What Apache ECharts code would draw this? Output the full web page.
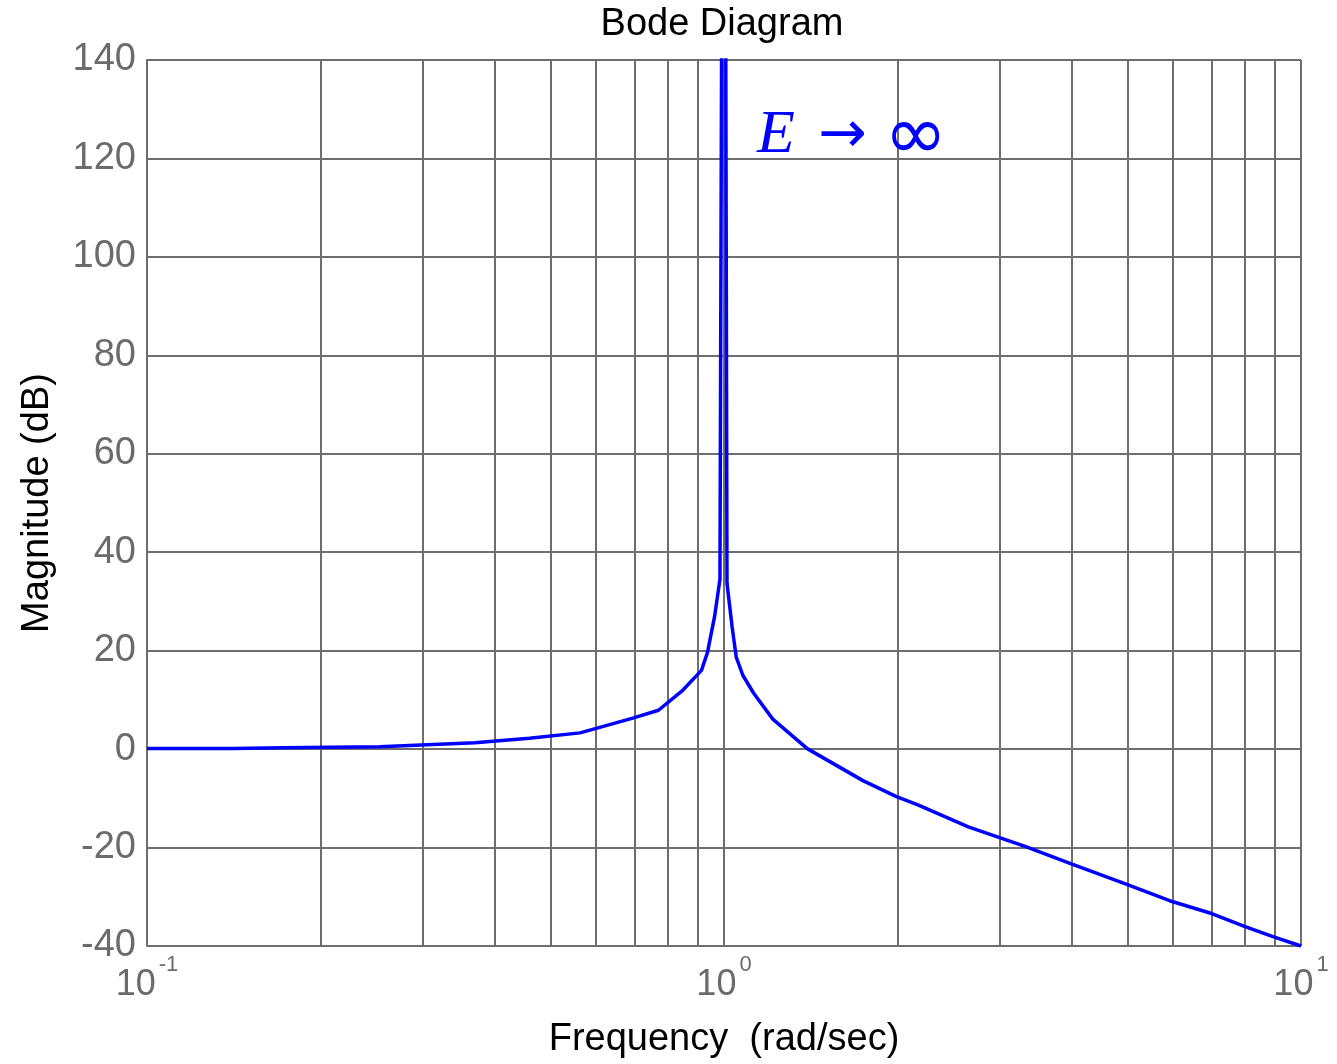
<!DOCTYPE html>
<html>
<head>
<meta charset="utf-8">
<title>Bode Diagram</title>
<script src="https://cdn.jsdelivr.net/npm/echarts@6/dist/echarts.min.js"></script>
<style>
  html, body { margin: 0; padding: 0; background: #ffffff; }
  #chart { width: 1337px; height: 1064px; }
</style>
</head>
<body>
<div id="chart"></div>
<script>
// Undamped second-order system: magnitude response vs. frequency
const frequency = [0.1, 0.141, 0.172, 0.253, 0.37, 0.46, 0.563, 0.695, 0.77, 0.849, 0.914, 0.936,
  0.963, 0.984, 1, 1.012, 1.033, 1.05, 1.078, 1.125, 1.215, 1.394, 1.741, 1.986, 2.173, 2.651,
  3.334, 3.977, 4.963, 5.92, 7.0, 7.98, 8.94, 10];
const magnitudeDb = [0.1, 0.1, 0.3, 0.5, 1.3, 2.2, 3.3, 6.3, 7.9, 12.0, 16.0, 19.6,
  26.9, 34.5, 300, 33.7, 24.8, 18.7, 15.0, 11.4, 6.1, 0.1, -6.4, -9.6, -11.4, -15.8,
  -19.8, -23.2, -27.4, -30.8, -33.4, -36.0, -38.1, -40.0];

// Intermediate log-decade grid lines
const minorFrequencies = [0.2, 0.3, 0.4, 0.5, 0.6, 0.7, 0.8, 0.9, 2, 3, 4, 5, 6, 7, 8, 9];

const yTicks = { min: -40, max: 140, step: 20 };

const gridColor = '#6e6e6e';
const labelColor = '#6b6b6b';
const curveColor = '#0000ff';
const sansFont = '"Liberation Sans", Arial, Helvetica, sans-serif';

const chart = echarts.init(document.getElementById('chart'), null, { renderer: 'canvas' });

chart.setOption({
  backgroundColor: '#ffffff',
  animation: false,
  grid: { left: 147, right: 36, top: 60, bottom: 118, containLabel: false },
  graphic: [
    {
      type: 'text', x: 722, y: 6, z: 10,
      style: { text: 'Bode Diagram', textAlign: 'center', fill: '#000000',
        font: '38px ' + sansFont }
    },
    // resonance annotation: E -> infinity
    {
      type: 'text', x: 757, y: 136, z: 10,
      style: { text: 'E', textVerticalAlign: 'middle', fill: curveColor,
        font: 'italic 62px "Liberation Serif", "DejaVu Serif", serif' }
    },
    {
      type: 'text', x: 818, y: 137, z: 10,
      style: { text: '→', textVerticalAlign: 'middle', fill: curveColor,
        font: '58px "DejaVu Sans", sans-serif' }
    },
    {
      type: 'text', x: 884, y: 139, z: 10,
      style: { text: '∞', textVerticalAlign: 'middle', fill: curveColor,
        font: '76px "DejaVu Sans", sans-serif' }
    }
  ],
  xAxis: {
    type: 'log',
    logBase: 10,
    min: 0.1,
    max: 10,
    name: 'Frequency  (rad/sec)',
    nameLocation: 'middle',
    nameGap: 75,
    nameTextStyle: { color: '#000000', fontSize: 38, fontFamily: sansFont },
    axisLine: { show: true, lineStyle: { color: gridColor, width: 2 } },
    axisTick: { show: false },
    splitLine: { show: true, lineStyle: { color: gridColor, width: 2 } },
    axisLabel: {
      margin: 21,
      formatter: function (v) {
        const exp = Math.round(Math.log10(v));
        return '{b|10}{s|' + exp + '}';
      },
      rich: {
        b: { fontSize: 36, color: labelColor, fontFamily: sansFont, lineHeight: 36 },
        s: { fontSize: 22, color: labelColor, fontFamily: sansFont, lineHeight: 22,
             padding: [0, 0, 40, 3] }
      }
    }
  },
  yAxis: {
    type: 'value',
    min: yTicks.min,
    max: yTicks.max,
    interval: yTicks.step,
    name: 'Magnitude (dB)',
    nameLocation: 'middle',
    nameGap: 90,
    nameTextStyle: { color: '#000000', fontSize: 38, fontFamily: sansFont },
    axisLine: { show: true, lineStyle: { color: gridColor, width: 2 } },
    axisTick: { show: false },
    splitLine: { show: true, lineStyle: { color: gridColor, width: 2 } },
    axisLabel: { margin: 11, color: labelColor, fontSize: 38, fontFamily: sansFont }
  },
  series: [
    {
      name: 'minor grid',
      type: 'line',
      data: [],
      z: 1,
      silent: true,
      markLine: {
        silent: true,
        symbol: ['none', 'none'],
        label: { show: false },
        lineStyle: { color: gridColor, width: 2, type: 'solid' },
        data: minorFrequencies.map(f => ({ xAxis: f }))
      }
    },
    {
      name: 'Magnitude',
      type: 'line',
      z: 5,
      clip: true,
      showSymbol: false,
      smooth: false,
      data: frequency.map((f, i) => [f, magnitudeDb[i]]),
      lineStyle: { color: curveColor, width: 3.5 },
      itemStyle: { color: curveColor }
    }
  ]
});
</script>
</body>
</html>
